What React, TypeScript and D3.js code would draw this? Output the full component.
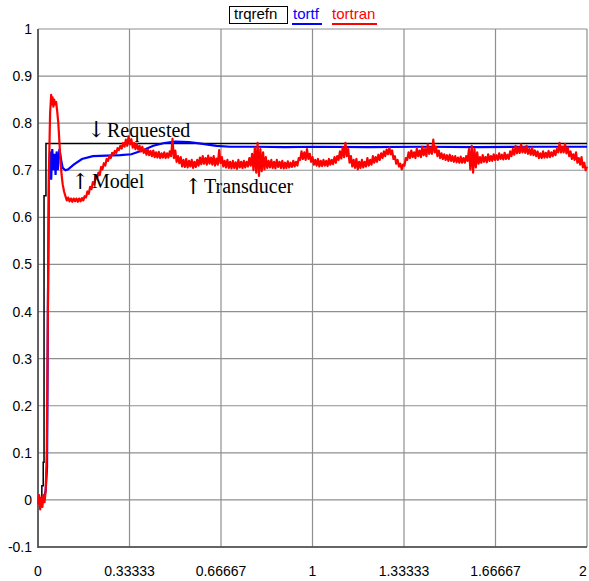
import React from 'react';
import * as d3 from 'd3';

// x ticks and y ticks as printed on the chart
const xTicks = [0, 1 / 3, 2 / 3, 1, 4 / 3, 5 / 3, 2];
const xTickLabels = ['0', '0.33333', '0.66667', '1', '1.33333', '1.66667', '2'];
const yTicks = [-0.1, 0, 0.1, 0.2, 0.3, 0.4, 0.5, 0.6, 0.7, 0.8, 0.9, 1];
const yTickLabels = ['-0.1', '0', '0.1', '0.2', '0.3', '0.4', '0.5', '0.6', '0.7', '0.8', '0.9', '1'];

// trqrefn: requested torque (step)
const trqrefn: [number, number][] = [
  [0, 0], [0.014, 0.03], [0.019, 0.08], [0.022, 0.646], [0.029, 0.757], [2, 0.757],
];

// tortf: model torque
const tortf: [number, number][] = [
  [0, 0], [0.02, 0], [0.028, 0.02], [0.033, 0.07], [0.036, 0.4], [0.04, 0.7],
  [0.044, 0.74], [0.048, 0.68], [0.052, 0.745], [0.056, 0.7], [0.06, 0.735],
  [0.064, 0.69], [0.068, 0.74], [0.072, 0.7], [0.078, 0.745], [0.085, 0.72],
  [0.09, 0.705], [0.1, 0.7], [0.11, 0.702], [0.13, 0.712], [0.16, 0.724],
  [0.2, 0.73], [0.25, 0.731], [0.3, 0.732], [0.34, 0.734], [0.38, 0.742],
  [0.42, 0.752], [0.46, 0.758], [0.5, 0.761], [0.55, 0.76], [0.6, 0.756],
  [0.65, 0.752], [0.7, 0.75], [0.8, 0.75], [0.9, 0.749], [1.0, 0.75],
  [1.2, 0.749], [1.4, 0.75], [1.6, 0.749], [1.8, 0.75], [2.0, 0.75],
];

// tortran: transducer torque
const tortran: [number, number][] = [
  [0, -0.01], [0.004, 0.01], [0.008, -0.02], [0.012, 0.005], [0.016, -0.015],
  [0.02, 0.01], [0.024, -0.005], [0.028, 0.02], [0.032, 0.1], [0.036, 0.4],
  [0.04, 0.7], [0.044, 0.82], [0.048, 0.86], [0.05, 0.84], [0.053, 0.855],
  [0.056, 0.835], [0.059, 0.85], [0.062, 0.84], [0.066, 0.845], [0.07, 0.825],
  [0.074, 0.8], [0.078, 0.76], [0.082, 0.72], [0.086, 0.69], [0.09, 0.67],
  [0.095, 0.655], [0.1, 0.645], [0.105, 0.636], [0.11, 0.642], [0.115, 0.634],
  [0.12, 0.64], [0.125, 0.633], [0.13, 0.64], [0.135, 0.634], [0.14, 0.64],
  [0.145, 0.633], [0.15, 0.64], [0.155, 0.634], [0.16, 0.641], [0.165, 0.636],
  [0.17, 0.645], [0.175, 0.642], [0.18, 0.655], [0.185, 0.65], [0.19, 0.665],
  [0.195, 0.66], [0.2, 0.675], [0.205, 0.67], [0.21, 0.687], [0.215, 0.682],
  [0.22, 0.695], [0.225, 0.69], [0.23, 0.707], [0.235, 0.702], [0.24, 0.715],
  [0.245, 0.71], [0.25, 0.724], [0.255, 0.72], [0.26, 0.73], [0.265, 0.726],
  [0.27, 0.737], [0.275, 0.733], [0.28, 0.741], [0.285, 0.737], [0.29, 0.747],
  [0.295, 0.743], [0.3, 0.752], [0.305, 0.746], [0.31, 0.758], [0.315, 0.75],
  [0.32, 0.765], [0.325, 0.752], [0.33, 0.772], [0.335, 0.755], [0.34, 0.766],
  [0.345, 0.748], [0.35, 0.758], [0.355, 0.745], [0.36, 0.756], [0.365, 0.744],
  [0.37, 0.752], [0.375, 0.74], [0.38, 0.75], [0.385, 0.737], [0.39, 0.745],
  [0.395, 0.733], [0.4, 0.744], [0.405, 0.732], [0.41, 0.741], [0.415, 0.73],
  [0.42, 0.742], [0.425, 0.728], [0.43, 0.738], [0.435, 0.727], [0.44, 0.739],
  [0.445, 0.726], [0.45, 0.736], [0.455, 0.727], [0.46, 0.738], [0.465, 0.726],
  [0.47, 0.736], [0.475, 0.727], [0.48, 0.74], [0.485, 0.73], [0.49, 0.767],
  [0.495, 0.726], [0.5, 0.742], [0.505, 0.718], [0.51, 0.73], [0.515, 0.715],
  [0.52, 0.728], [0.525, 0.708], [0.53, 0.722], [0.535, 0.707], [0.54, 0.724],
  [0.545, 0.706], [0.55, 0.72], [0.555, 0.708], [0.56, 0.722], [0.565, 0.705],
  [0.57, 0.718], [0.575, 0.707], [0.58, 0.722], [0.585, 0.71], [0.59, 0.727],
  [0.595, 0.713], [0.6, 0.73], [0.605, 0.714], [0.61, 0.726], [0.615, 0.712],
  [0.62, 0.731], [0.625, 0.714], [0.63, 0.727], [0.635, 0.712], [0.64, 0.73],
  [0.645, 0.71], [0.65, 0.725], [0.655, 0.712], [0.66, 0.743], [0.665, 0.715],
  [0.67, 0.728], [0.675, 0.708], [0.68, 0.72], [0.685, 0.706], [0.69, 0.722],
  [0.695, 0.705], [0.7, 0.718], [0.705, 0.704], [0.71, 0.72], [0.715, 0.705],
  [0.72, 0.717], [0.725, 0.703], [0.73, 0.722], [0.735, 0.706], [0.74, 0.718],
  [0.745, 0.705], [0.75, 0.72], [0.755, 0.706], [0.76, 0.718], [0.765, 0.708],
  [0.77, 0.726], [0.775, 0.71], [0.78, 0.735], [0.785, 0.7], [0.79, 0.748],
  [0.795, 0.695], [0.8, 0.758], [0.805, 0.688], [0.81, 0.745], [0.815, 0.698],
  [0.82, 0.738], [0.825, 0.702], [0.83, 0.728], [0.835, 0.705], [0.84, 0.72],
  [0.845, 0.706], [0.85, 0.722], [0.855, 0.705], [0.86, 0.718], [0.865, 0.704],
  [0.87, 0.722], [0.875, 0.707], [0.88, 0.718], [0.885, 0.705], [0.89, 0.72],
  [0.895, 0.704], [0.9, 0.716], [0.905, 0.705], [0.91, 0.719], [0.915, 0.706],
  [0.92, 0.716], [0.925, 0.707], [0.93, 0.72], [0.935, 0.708], [0.94, 0.718],
  [0.945, 0.71], [0.95, 0.726], [0.955, 0.722], [0.96, 0.74], [0.965, 0.724],
  [0.97, 0.738], [0.975, 0.722], [0.98, 0.745], [0.985, 0.724], [0.99, 0.735],
  [0.995, 0.718], [1.0, 0.728], [1.005, 0.712], [1.01, 0.722], [1.015, 0.71],
  [1.02, 0.724], [1.025, 0.708], [1.03, 0.72], [1.035, 0.709], [1.04, 0.722],
  [1.045, 0.71], [1.05, 0.72], [1.055, 0.709], [1.06, 0.724], [1.065, 0.712],
  [1.07, 0.722], [1.075, 0.713], [1.08, 0.728], [1.085, 0.716], [1.09, 0.73],
  [1.095, 0.722], [1.1, 0.74], [1.105, 0.725], [1.11, 0.748], [1.115, 0.728],
  [1.12, 0.758], [1.125, 0.73], [1.13, 0.745], [1.135, 0.716], [1.14, 0.73],
  [1.145, 0.708], [1.15, 0.722], [1.155, 0.705], [1.16, 0.724], [1.165, 0.702],
  [1.17, 0.718], [1.175, 0.705], [1.18, 0.722], [1.185, 0.706], [1.19, 0.718],
  [1.195, 0.708], [1.2, 0.726], [1.205, 0.71], [1.21, 0.722], [1.215, 0.712],
  [1.22, 0.73], [1.225, 0.716], [1.23, 0.728], [1.235, 0.718], [1.24, 0.733],
  [1.245, 0.722], [1.25, 0.736], [1.255, 0.726], [1.26, 0.74], [1.265, 0.73],
  [1.27, 0.744], [1.275, 0.734], [1.28, 0.748], [1.285, 0.734], [1.29, 0.742],
  [1.295, 0.724], [1.3, 0.73], [1.305, 0.714], [1.31, 0.722], [1.315, 0.708],
  [1.32, 0.714], [1.325, 0.702], [1.33, 0.712], [1.335, 0.71], [1.34, 0.726],
  [1.345, 0.722], [1.35, 0.738], [1.355, 0.726], [1.36, 0.742], [1.365, 0.728],
  [1.37, 0.738], [1.375, 0.726], [1.38, 0.746], [1.385, 0.73], [1.39, 0.742],
  [1.395, 0.728], [1.4, 0.75], [1.405, 0.732], [1.41, 0.745], [1.415, 0.73],
  [1.42, 0.755], [1.425, 0.735], [1.43, 0.748], [1.435, 0.735], [1.44, 0.765],
  [1.445, 0.738], [1.45, 0.75], [1.455, 0.73], [1.46, 0.742], [1.465, 0.726],
  [1.47, 0.736], [1.475, 0.724], [1.48, 0.734], [1.485, 0.722], [1.49, 0.732],
  [1.495, 0.72], [1.5, 0.733], [1.505, 0.72], [1.51, 0.73], [1.515, 0.718],
  [1.52, 0.73], [1.525, 0.717], [1.53, 0.727], [1.535, 0.716], [1.54, 0.729],
  [1.545, 0.716], [1.55, 0.726], [1.555, 0.716], [1.56, 0.73], [1.565, 0.72],
  [1.57, 0.745], [1.575, 0.702], [1.58, 0.752], [1.585, 0.695], [1.59, 0.745],
  [1.595, 0.706], [1.6, 0.738], [1.605, 0.714], [1.61, 0.728], [1.615, 0.716],
  [1.62, 0.732], [1.625, 0.718], [1.63, 0.728], [1.635, 0.717], [1.64, 0.734],
  [1.645, 0.72], [1.65, 0.73], [1.655, 0.72], [1.66, 0.734], [1.665, 0.722],
  [1.67, 0.732], [1.675, 0.722], [1.68, 0.736], [1.685, 0.724], [1.69, 0.733],
  [1.695, 0.723], [1.7, 0.737], [1.705, 0.724], [1.71, 0.733], [1.715, 0.724],
  [1.72, 0.74], [1.725, 0.73], [1.73, 0.745], [1.735, 0.733], [1.74, 0.752],
  [1.745, 0.736], [1.75, 0.748], [1.755, 0.737], [1.76, 0.755], [1.765, 0.738],
  [1.77, 0.749], [1.775, 0.737], [1.78, 0.752], [1.785, 0.735], [1.79, 0.745],
  [1.795, 0.733], [1.8, 0.748], [1.805, 0.732], [1.81, 0.742], [1.815, 0.73],
  [1.82, 0.74], [1.825, 0.726], [1.83, 0.736], [1.835, 0.726], [1.84, 0.74],
  [1.845, 0.727], [1.85, 0.737], [1.855, 0.727], [1.86, 0.741], [1.865, 0.728],
  [1.87, 0.738], [1.875, 0.73], [1.88, 0.742], [1.885, 0.732], [1.89, 0.745],
  [1.895, 0.738], [1.9, 0.758], [1.905, 0.738], [1.91, 0.75], [1.915, 0.738],
  [1.92, 0.756], [1.925, 0.736], [1.93, 0.748], [1.935, 0.73], [1.94, 0.74],
  [1.945, 0.724], [1.95, 0.734], [1.955, 0.722], [1.96, 0.738], [1.965, 0.716],
  [1.97, 0.726], [1.975, 0.712], [1.98, 0.728], [1.985, 0.706], [1.99, 0.716],
  [1.995, 0.7], [2.0, 0.708],
];

const W = 589;
const H = 581;
const plot = { left: 38, right: 587, top: 29, bottom: 547 };

const x = d3.scaleLinear().domain([0, 2]).range([plot.left, plot.right]);
const y = d3.scaleLinear().domain([-0.1, 1]).range([plot.bottom, plot.top]);

const line = d3.line<[number, number]>().x(d => x(d[0])).y(d => y(d[1]));
const stepLine = d3.line<[number, number]>().x(d => x(d[0])).y(d => y(d[1])).curve(d3.curveStepAfter);

const tickFont = '"Liberation Sans", Arial, sans-serif';
const noteFont = '"Liberation Serif", "Times New Roman", serif';
const arrowFont = '"DejaVu Serif", serif';

export default function App() {
  return (
    <svg width={W} height={H} style={{ position: 'absolute', left: 0, top: 0, background: '#fff' }}>
      {/* grid */}
      {yTicks.map(t => (
        <line key={'gy' + t} x1={plot.left} x2={plot.right} y1={y(t)} y2={y(t)} stroke="#8f8f8f" strokeWidth={1.2} />
      ))}
      {xTicks.map(t => (
        <line key={'gx' + t} x1={x(t)} x2={x(t)} y1={plot.top} y2={plot.bottom} stroke="#8f8f8f" strokeWidth={1.2} />
      ))}
      <line x1={plot.left} x2={plot.left} y1={plot.top} y2={plot.bottom + 1} stroke="#444" strokeWidth={1.5} />
      <line x1={plot.left} x2={plot.right} y1={plot.bottom} y2={plot.bottom} stroke="#444" strokeWidth={1.5} />

      {/* series */}
      <path d={stepLine(trqrefn) || ''} fill="none" stroke="#000" strokeWidth={1.5} />
      <path d={line(tortf) || ''} fill="none" stroke="#0000ff" strokeWidth={2.2} />
      <path d={line(tortran) || ''} fill="none" stroke="#ff0000" strokeWidth={2.2} strokeLinejoin="round" />

      {/* tick labels */}
      {yTicks.map((t, i) => (
        <text key={'ly' + t} x={32} y={y(t)} dy="0.36em" textAnchor="end" fontFamily={tickFont} fontSize={14} fill="#000">
          {yTickLabels[i]}
        </text>
      ))}
      {xTicks.map((t, i) => (
        <text key={'lx' + t} x={i === xTicks.length - 1 ? x(t) - 4 : x(t)} y={576} textAnchor="middle" fontFamily={tickFont} fontSize={14} fill="#000">
          {xTickLabels[i]}
        </text>
      ))}

      {/* legend */}
      <rect x={229.5} y={6.5} width={58} height={17} fill="#fff" stroke="#000" strokeWidth={1} />
      <text x={234} y={19} fontFamily={tickFont} fontSize={15} fill="#000">trqrefn</text>
      <text x={293} y={19} fontFamily={tickFont} fontSize={15} fill="#0000ff">tortf</text>
      <line x1={292} x2={322} y1={24} y2={24} stroke="#0000ff" strokeWidth={2} />
      <text x={332} y={19} fontFamily={tickFont} fontSize={15} fill="#ff0000">tortran</text>
      <line x1={332} x2={377} y1={24} y2={24} stroke="#ff0000" strokeWidth={2} />

      {/* annotations */}
      <text x={87} y={137} fontFamily={arrowFont} fontSize={22} fill="#000">↓</text>
      <text x={107} y={137} fontFamily={noteFont} fontSize={20} fill="#000">Requested</text>
      <text x={71} y={189} fontFamily={arrowFont} fontSize={22} fill="#000">↑</text>
      <text x={92} y={188} fontFamily={noteFont} fontSize={20} fill="#000">Model</text>
      <text x={184} y={194} fontFamily={arrowFont} fontSize={22} fill="#000">↑</text>
      <text x={204} y={193} fontFamily={noteFont} fontSize={20} fill="#000">Transducer</text>
    </svg>
  );
}
